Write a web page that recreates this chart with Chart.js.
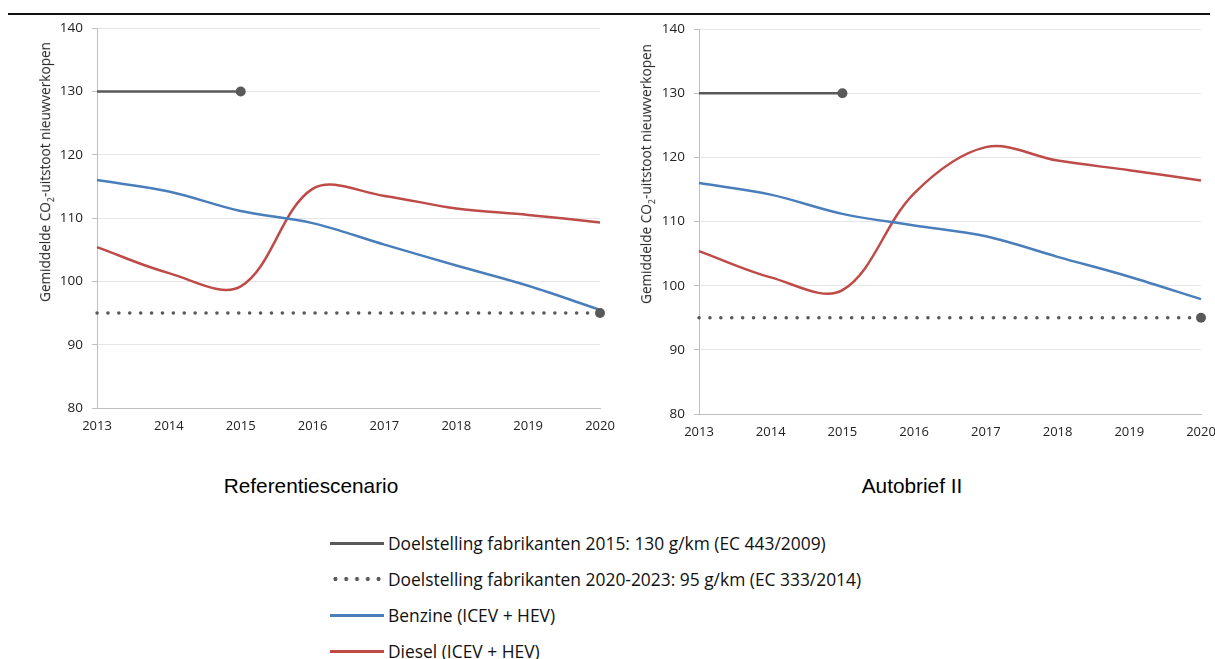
<!DOCTYPE html>
<html>
<head>
<meta charset="utf-8">
<script src="https://cdn.jsdelivr.net/npm/chart.js@4"></script>
<style>
  body { margin: 0; background: #fff; width: 1215px; height: 659px; position: relative; overflow: hidden; font-family: "Liberation Sans", Arial, sans-serif; }
  .rule { position: absolute; left: 8px; top: 13px; width: 1202px; height: 2px; background: #111; }
  .wrap { position: absolute; }
  .ytitle { position: absolute; font-family: "Open Sans", sans-serif; font-size: 13.6px; color: #222; white-space: nowrap; transform: translate(-50%, -50%) rotate(-90deg); }
  .caption { position: absolute; top: 474px; font-size: 20.8px; color: #000; transform: translateX(-50%); white-space: nowrap; }
  .legend { position: absolute; left: 330px; top: 525px; font-family: "Open Sans", "Noto Sans", sans-serif; font-size: 17.4px; color: #111; }
  .legend .row { height: 36px; display: flex; align-items: center; }
  .legend .sw { width: 54px; height: 3px; margin-right: 4px; }
  .legend .dots { width: 54px; height: 4px; margin-right: 4px; background-image: radial-gradient(circle, #595959 1.8px, transparent 2.2px); background-size: 10.8px 4px; background-position: 0 0; }
</style>
</head>
<body>
<div class="rule"></div>
<div class="wrap" style="left:30px;top:11px;width:590px;height:437px"><canvas id="leftChart"></canvas></div>
<div class="wrap" style="left:632px;top:12px;width:583px;height:442px"><canvas id="rightChart"></canvas></div>
<div class="ytitle" style="left:46px;top:172px">Gemiddelde CO<sub style="font-size:9px">2</sub>-uitstoot nieuwverkopen</div>
<div class="ytitle" style="left:647px;top:174px">Gemiddelde CO<sub style="font-size:9px">2</sub>-uitstoot nieuwverkopen</div>
<div class="caption" style="left:311px">Referentiescenario</div>
<div class="caption" style="left:912px">Autobrief II</div>
<div class="legend" id="legend"></div>
<script>
(function(){
    "use strict";

    const years = ['2013', '2014', '2015', '2016', '2017', '2018', '2019', '2020'];
    const yTicks = [80, 90, 100, 110, 120, 130, 140];

    const target2015 = [130, 130, 130, null, null, null, null, null];
    const target2020 = [95, 95, 95, 95, 95, 95, 95, 95];

    const refBenzine = [116.0, 114.2, 111.1, 109.2, 105.8, 102.5, 99.3, 95.5];
    const refDiesel = [105.4, 101.3, 99.2, 114.6, 113.5, 111.5, 110.5, 109.3];

    const autoBenzine = [116.0, 114.2, 111.2, 109.4, 107.7, 104.5, 101.4, 97.9];
    const autoDiesel = [105.4, 101.3, 99.3, 114.4, 121.6, 119.5, 118.0, 116.4];

    const seriesNames = [
        'Doelstelling fabrikanten 2015: 130 g/km (EC 443/2009)',
        'Doelstelling fabrikanten 2020-2023: 95 g/km (EC 333/2014)',
        'Benzine (ICEV + HEV)',
        'Diesel (ICEV + HEV)'
    ];
    const colors = { grey: '#595959', blue: '#4A7EBB', red: '#BE4B48' };

    function endPoint(arr) {
        let last = -1;
        arr.forEach((v, i) => { if (v !== null) last = i; });
        return arr.map((v, i) => i === last ? 5 : 0);
    }

    function buildChart(id, benzine, diesel, topPad, rightPad) {
        const ctx = document.getElementById(id).getContext('2d');
        return new Chart(ctx, {
            type: 'line',
            data: {
                labels: years,
                datasets: [
                    { label: seriesNames[0], data: target2015, borderColor: colors.grey, backgroundColor: colors.grey, borderWidth: 2.5, tension: 0, pointRadius: endPoint(target2015), pointBorderWidth: 0, spanGaps: false },
                    { label: seriesNames[1], data: target2020, borderColor: colors.grey, backgroundColor: colors.grey, borderWidth: 3.5, borderDash: [0.1, 10.8], borderCapStyle: 'round', tension: 0, pointRadius: endPoint(target2020), pointBorderWidth: 0 },
                    { label: seriesNames[2], data: benzine, borderColor: colors.blue, borderWidth: 2.5, tension: 0.35, pointRadius: 0 },
                    { label: seriesNames[3], data: diesel, borderColor: colors.red, borderWidth: 2.5, tension: 0.35, pointRadius: 0 }
                ]
            },
            options: {
                responsive: true,
                maintainAspectRatio: false,
                animation: false,
                layout: { padding: { top: topPad, right: rightPad, left: 0, bottom: 0 } },
                plugins: { legend: { display: false }, tooltip: { enabled: false } },
                scales: {
                    x: {
                        offset: false,
                        grid: { display: false, drawOnChartArea: false, tickLength: 5, color: '#BFBFBF' },
                        border: { color: '#BFBFBF', width: 1 },
                        ticks: { color: '#222', font: { family: 'Open Sans', size: 13 }, maxRotation: 0, padding: 5 },
                        afterFit: s => { s.height = 40; s.paddingRight = 0; }
                    },
                    y: {
                        min: 80, max: 140,
                        afterBuildTicks: s => { s.ticks = yTicks.map(v => ({ value: v })); },
                        grid: { color: '#E6E6E6', tickLength: 5, tickColor: '#BFBFBF' },
                        border: { color: '#BFBFBF', width: 1 },
                        ticks: { color: '#222', font: { family: 'Open Sans', size: 13.5 }, padding: 9 },
                        afterFit: s => { s.width = 67; }
                    }
                }
            }
        });
    }

    buildChart('leftChart', refBenzine, refDiesel, 5, 20);
    buildChart('rightChart', autoBenzine, autoDiesel, 6, 14);

    const legend = document.getElementById('legend');
    seriesNames.forEach((name, i) => {
        const row = document.createElement('div');
        row.className = 'row';
        const sw = document.createElement('div');
        sw.className = i === 1 ? 'dots' : 'sw';
        if (i !== 1) sw.style.background = [colors.grey, null, colors.blue, colors.red][i];
        const txt = document.createElement('span');
        txt.textContent = name;
        row.appendChild(sw); row.appendChild(txt);
        legend.appendChild(row);
    });
})();
</script>
</body>
</html>
